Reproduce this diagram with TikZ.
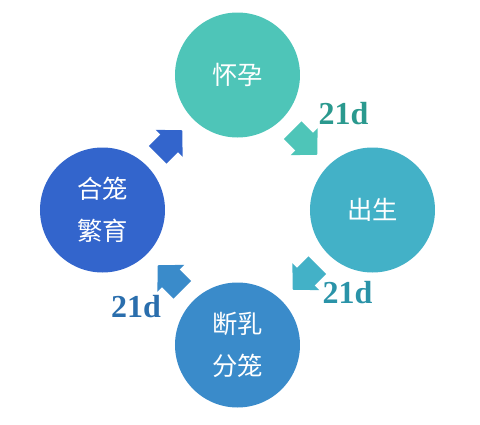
\documentclass[tikz,border=0pt]{standalone}
\usepackage{fontspec}
\setmainfont{Liberation Serif}
\newfontfamily\cjk{Noto Sans CJK SC}
\usepackage{tikz}
\usetikzlibrary{arrows.meta}
\definecolor{stageteal}{HTML}{4EC5B8}
\definecolor{stagecyan}{HTML}{43B1C7}
\definecolor{stageblue}{HTML}{3A8BCA}
\definecolor{stageroyal}{HTML}{3365CC}
\definecolor{daysteal}{HTML}{2A998E}
\definecolor{dayscyan}{HTML}{2A93A8}
\definecolor{daysblue}{HTML}{2A6EAD}
\tikzstyle{stage} = [circle,
    minimum size=93.75pt,
    inner sep=0pt,
    text=white,
    align=center,
    font=\cjk\fontsize{19}{32}\selectfont]
\tikzstyle{blockarrow} = [line width=18.75pt,
    -{Triangle[width=27.75pt, length=13.9pt]},
    shorten <=11.5pt,
    shorten >=11.5pt]
\tikzstyle{days} = [font=\fontsize{24}{24}\selectfont\bfseries,
    inner sep=0pt]

\begin{document}
\begin{tikzpicture}[x=0.75pt, y=-0.75pt]
        \useasboundingbox (0,0) rectangle (480,425);

        \node (pregnant) [stage, fill=stageteal] at (237.5,75) {怀孕};
        \node (birth) [stage, fill=stagecyan] at (372.5,210) {出生};
        \node (weaning) [stage, fill=stageblue] at (237.5,345) {断乳\\分笼};
        \node (mating) [stage, fill=stageroyal] at (102.5,210) {合笼\\繁育};

        \node (days_birth) [days, text=daysteal] at (343.5,114) {21d};
        \node (days_weaning) [days, text=dayscyan] at (347.5,293) {21d};
        \node (days_mating) [days, text=daysblue] at (136,306.5) {21d};

        \draw [blockarrow, stageteal] (pregnant) -- (birth);
        \draw [blockarrow, stagecyan] (birth) -- (weaning);
        \draw [blockarrow, stageblue] (weaning) -- (mating);
        \draw [blockarrow, stageroyal] (mating) -- (pregnant);
    \end{tikzpicture}
\end{document}
